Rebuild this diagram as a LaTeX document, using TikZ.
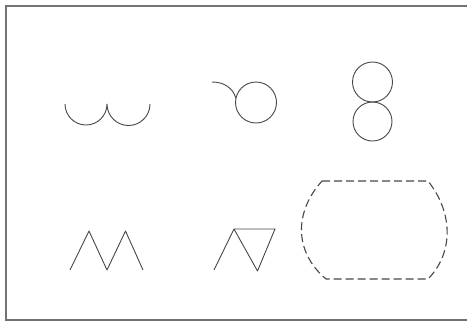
\documentclass[tikz,border=0pt]{standalone}
\begin{document}
\begin{tikzpicture}[x=1pt,y=-1pt,
  glyph/.style={draw=black!72,line width=0.9pt,line join=round},
  framebox/.style={draw=black!55,line width=1.6pt},
  dashedglyph/.style={glyph,line width=1.1pt,dash pattern=on 8pt off 4pt}]
\useasboundingbox (0,0) rectangle (467,322);
\clip (0,0) rectangle (467,322);
\fill[white] (0,0) rectangle (467,322);
% frame (right side runs off the picture)
\draw[framebox] (480,6) -- (6,6) -- (6,320) -- (480,320);
% two arcs
\draw[glyph] (65,104) arc[start angle=180,end angle=0,radius=21]
                      arc[start angle=180,end angle=0,radius=21.5];
% circle with tail
\draw[glyph] (256,102.5) circle[radius=20.5];
\draw[glyph] (212,82) .. controls (224,82) and (233,88) .. (235.8,98);
% figure eight
\draw[glyph] (372.5,82) circle[radius=20];
\draw[glyph] (372.5,121.5) circle[radius=19.5];
% zigzag M
\draw[glyph] (70,270) -- (89,231) -- (107,270) -- (125.5,231) -- (143,270);
% zigzag with triangle
\draw[glyph] (214,270) -- (234,229) -- (257.5,271) -- (275,229) -- (234,229);
% dashed barrel shape
\draw[dashedglyph] (322,181) -- (428,181)
  .. controls (455,215) and (452,255) .. (428,279)
  -- (326,279)
  .. controls (294,252) and (294,212) .. cycle;
\end{tikzpicture}
\end{document}
